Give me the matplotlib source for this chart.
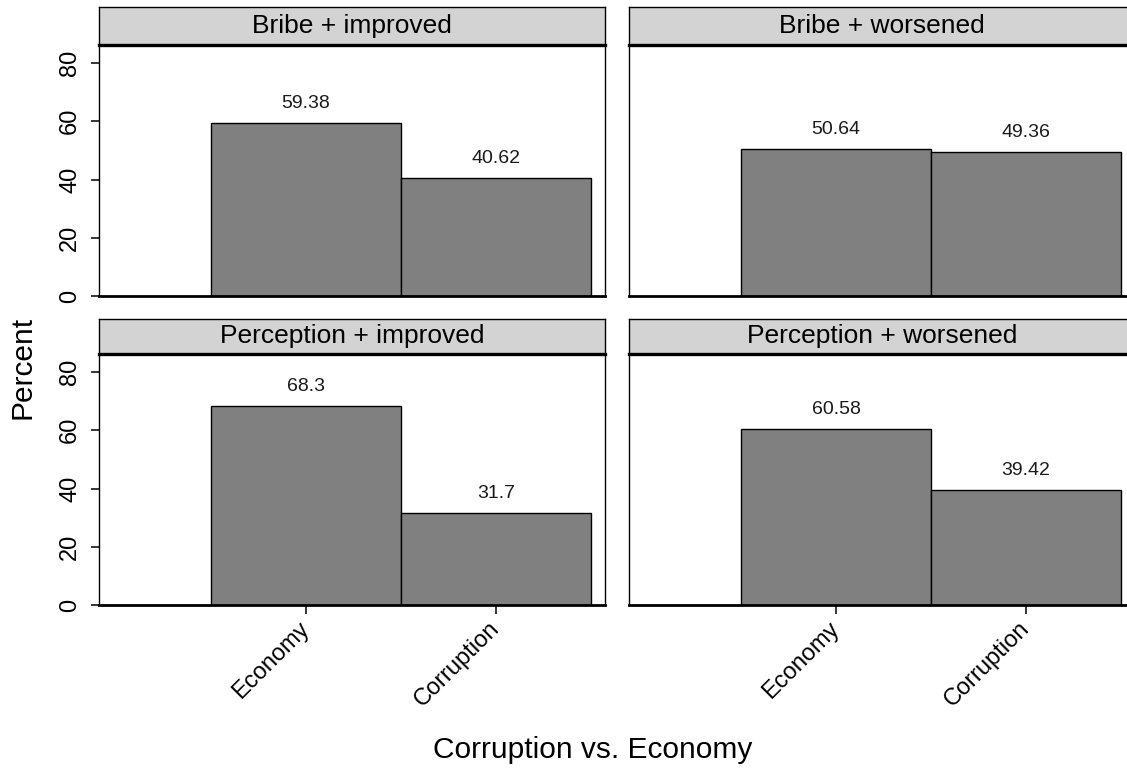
import matplotlib.pyplot as plt
import numpy as np

plt.rcParams['font.family'] = ['Liberation Sans', 'DejaVu Sans']

# survey shares (percent) per panel
panel_titles = ["Bribe + improved", "Bribe + worsened",
                "Perception + improved", "Perception + worsened"]
categories = ["Economy", "Corruption"]
bribe_improved = [59.38, 40.62]
bribe_worsened = [50.64, 49.36]
perception_improved = [68.3, 31.7]
perception_worsened = [60.58, 39.42]
panel_values = [bribe_improved, bribe_worsened,
                perception_improved, perception_worsened]

W, H = 1127, 769
fig = plt.figure(figsize=(W / 100, H / 100), dpi=100)


def box(x0, y0, x1, y1):
    # pixel box (top-left origin) -> figure rect
    return [x0 / W, 1 - y1 / H, (x1 - x0) / W, (y1 - y0) / H]


col_left = [99, 629]
panel_w = 506
panel_rows = [(45, 296), (354, 605)]
strip_rows = [(7, 45), (319, 354)]

x = np.arange(len(categories))

for i, (title, vals) in enumerate(zip(panel_titles, panel_values)):
    r, c = divmod(i, 2)
    x0 = col_left[c]
    x1 = x0 + panel_w

    ax = fig.add_axes(box(x0, panel_rows[r][0], x1, panel_rows[r][1]))
    ax.bar(x, vals, width=1.0, color='#808080', edgecolor='black', linewidth=1.0)
    ax.set_xlim(-1.09, 1.574)
    ax.set_ylim(0, 86.2)
    for s in ax.spines.values():
        s.set_linewidth(1.0)
    ax.spines['bottom'].set_linewidth(2.0)

    for xi, v in zip(x, vals):
        ax.annotate(f"{v:g}", (xi, v), xytext=(0, 14), textcoords='offset points',
                    ha='center', va='center', fontsize=14, color='#1a1a1a')

    if c == 0:
        ax.set_yticks(range(0, 81, 20))
        ax.set_yticklabels([str(t) for t in range(0, 81, 20)],
                           rotation=90, va='center')
        ax.tick_params(axis='y', direction='out', length=5.8, width=1.1,
                       pad=7, labelsize=17)
    else:
        ax.tick_params(axis='y', left=False, labelleft=False)

    if r == 1:
        ax.set_xticks(x)
        ax.set_xticklabels(categories, rotation=45, ha='right', va='center',
                           rotation_mode='anchor')
        ax.tick_params(axis='x', direction='out', length=6.5, width=1.1,
                       pad=8, labelsize=17)
    else:
        ax.tick_params(axis='x', bottom=False, labelbottom=False)

    # strip with the panel title
    sax = fig.add_axes(box(x0, strip_rows[r][0], x1, strip_rows[r][1]))
    sax.set_facecolor('#d3d3d3')
    sax.set_xticks([])
    sax.set_yticks([])
    for s in sax.spines.values():
        s.set_linewidth(1.0)
    sax.spines['bottom'].set_linewidth(2.4)
    sax.text(0.5, 0.5, title, transform=sax.transAxes,
             ha='center', va='center', fontsize=19)

fig.text(23 / W, 1 - 367 / H, 'Percent', rotation=90, ha='center', va='center',
         fontsize=21.5)
fig.text(593 / W, 1 - 750 / H, 'Corruption vs. Economy', ha='center', va='center',
         fontsize=21.5)

fig.savefig('out.png', dpi=100)
